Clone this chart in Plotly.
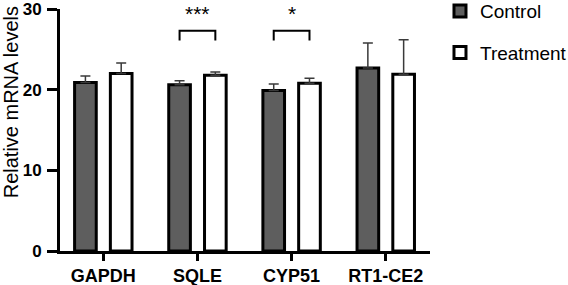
import plotly.graph_objects as go

categories = ["GAPDH", "SQLE", "CYP51", "RT1-CE2"]
control = [20.9, 20.6, 19.9, 22.7]
control_err = [0.8, 0.5, 0.8, 3.1]
treatment = [22.0, 21.8, 20.8, 21.9]
treatment_err = [1.3, 0.4, 0.6, 4.3]

# significance brackets: (category index, label)
sig_idx = [1, 2]
sig_labels = ["***", "*"]
bracket_top = 27.3
bracket_bottom = 26.1

BAR_W = 0.23
OFF = 0.19
FONT = "Liberation Sans, Arial"

fig = go.Figure()
fig.add_trace(go.Bar(
    x=categories, y=control, name="Control",
    width=BAR_W, offset=-OFF - BAR_W / 2,
    marker=dict(color="#5e5e5e", line=dict(color="black", width=3)),
    error_y=dict(type="data", array=control_err, arrayminus=[0] * 4, symmetric=False,
                 color="#3a3a3a", thickness=1.5, width=5),
    legendgroup="c",
))
fig.add_trace(go.Bar(
    x=categories, y=treatment, name="Treatment",
    width=BAR_W, offset=OFF - BAR_W / 2,
    marker=dict(color="white", line=dict(color="black", width=3)),
    error_y=dict(type="data", array=treatment_err, arrayminus=[0] * 4, symmetric=False,
                 color="#3a3a3a", thickness=1.5, width=5),
    legendgroup="t",
))

for i, lab in zip(sig_idx, sig_labels):
    x0 = i - OFF
    x1 = i + OFF
    fig.add_shape(type="path", xref="x", yref="y",
                  path=f"M {x0},{bracket_bottom} L {x0},{bracket_top} L {x1},{bracket_top} L {x1},{bracket_bottom}",
                  line=dict(color="black", width=2))
    fig.add_annotation(x=i, y=bracket_top + 0.45, xref="x", yref="y", text=lab,
                       showarrow=False, yanchor="bottom",
                       font=dict(size=21, color="black", family=FONT))

fig.add_annotation(x=-0.13, y=0.614, xref="paper", yref="paper",
                   text="Relative mRNA levels", textangle=-90, showarrow=False,
                   xanchor="center", yanchor="middle",
                   font=dict(size=20, color="black", family=FONT))

fig.update_layout(
    width=568, height=285,
    margin=dict(l=60, r=138, t=9, b=34, autoexpand=False),
    plot_bgcolor="white", paper_bgcolor="white",
    barmode="overlay",
    font=dict(family=FONT, color="black"),
    showlegend=True,
    legend=dict(x=1.027, y=1.07, xanchor="left", yanchor="top",
                font=dict(size=19, color="black"),
                traceorder="grouped", tracegroupgap=14,
                bgcolor="rgba(0,0,0,0)"),
)
fig.update_xaxes(
    range=[-0.46, 3.47], showline=True, linecolor="black", linewidth=3,
    ticks="outside", ticklen=7, tickwidth=2.5, tickcolor="black",
    ticklabelstandoff=-1, ticklabeloverflow="allow",
    tickfont=dict(size=18, family=FONT, color="black", weight="bold"),
    showgrid=False, zeroline=False,
)
fig.update_yaxes(
    range=[0, 30], tickvals=[0, 10, 20, 30], showline=True, linecolor="black", linewidth=3,
    ticks="outside", ticklen=10, tickwidth=2.5, tickcolor="black",
    ticklabelstandoff=2, ticklabeloverflow="allow",
    tickfont=dict(size=17, family=FONT, color="black", weight="bold"),
    showgrid=False, zeroline=False,
)

fig.write_html("out.html",
               config={"displayModeBar": False},
               post_script="document.body.style.margin='0';document.body.style.overflow='hidden';")
